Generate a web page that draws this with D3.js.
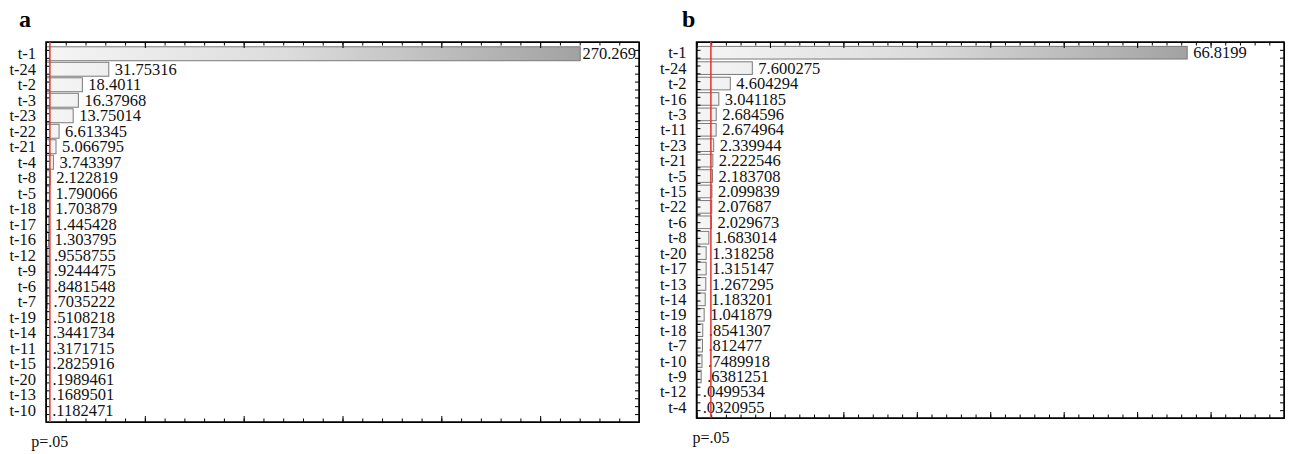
<!DOCTYPE html>
<html>
<head>
<meta charset="utf-8">
<script src="https://cdn.jsdelivr.net/npm/d3@7"></script>
<style>
  body { margin: 0; background: #fff; }
  .axis path, .axis line { stroke: #000; }
</style>
</head>
<body>
<svg id="vis"></svg>
<script>
// panel a: standardized effects, sorted
const labelsA = ["t-1", "t-24", "t-2", "t-3", "t-23", "t-22", "t-21", "t-4", "t-8", "t-5",
  "t-18", "t-17", "t-16", "t-12", "t-9", "t-6", "t-7", "t-19", "t-14", "t-11",
  "t-15", "t-20", "t-13", "t-10"];
const valuesA = [270.269, 31.75316, 18.4011, 16.37968, 13.75014, 6.613345, 5.066795, 3.743397,
  2.122819, 1.790066, 1.703879, 1.445428, 1.303795, 0.9558755, 0.9244475, 0.8481548,
  0.7035222, 0.5108218, 0.3441734, 0.3171715, 0.2825916, 0.1989461, 0.1689501, 0.1182471];

// panel b
const labelsB = ["t-1", "t-24", "t-2", "t-16", "t-3", "t-11", "t-23", "t-21", "t-5", "t-15",
  "t-22", "t-6", "t-8", "t-20", "t-17", "t-13", "t-14", "t-19", "t-18", "t-7",
  "t-10", "t-9", "t-12", "t-4"];
const valuesB = [66.8199, 7.600275, 4.604294, 3.041185, 2.684596, 2.674964, 2.339944, 2.222546,
  2.183708, 2.099839, 2.07687, 2.029673, 1.683014, 1.318258, 1.315147, 1.267295,
  1.183201, 1.041879, 0.8541307, 0.812477, 0.7489918, 0.6381251, 0.0499534, 0.0320955];

const critical = 1.96;   // p=.05 line
const serif = "'Liberation Serif', 'Times New Roman', 'DejaVu Serif', serif";

const svg = d3.select("svg#vis")
  .attr("width", 1296)
  .attr("height", 454);

const defs = svg.append("defs");

drawPanel({
  id: "a", letter: "a", labels: labelsA, values: valuesA,
  left: 46, right: 639, top: 42, bottom: 422,
  rowTop: 46, rowBottom: 418, padding: 0.1,
  xMax: 300, minorStep: 10, majorStep: 50,
  letterX: 19, letterY: 27
});

drawPanel({
  id: "b", letter: "b", labels: labelsB, values: valuesB,
  left: 696.5, right: 1284, top: 42, bottom: 418,
  rowTop: 45, rowBottom: 415, padding: 0.18,
  xMax: 80, minorStep: 2, majorStep: 10,
  letterX: 682, letterY: 27
});

function drawPanel(cfg) {
  let g = svg.append("g").attr("id", "panel-" + cfg.id);

  let x = d3.scaleLinear()
    .domain([0, cfg.xMax])
    .range([cfg.left, cfg.right]);

  let y = d3.scaleBand()
    .domain(cfg.labels)
    .range([cfg.rowTop, cfg.rowBottom])
    .paddingInner(cfg.padding)
    .paddingOuter(cfg.padding / 2);

  let maxVal = d3.max(cfg.values);

  let grad = defs.append("linearGradient")
    .attr("id", "grad-" + cfg.id)
    .attr("gradientUnits", "userSpaceOnUse")
    .attr("x1", x(0)).attr("y1", 0)
    .attr("x2", x(maxVal)).attr("y2", 0);
  grad.append("stop").attr("offset", "0%").attr("stop-color", "#f5f5f5");
  grad.append("stop").attr("offset", "45%").attr("stop-color", "#dcdcdc");
  grad.append("stop").attr("offset", "100%").attr("stop-color", "#a2a2a2");

  let rows = cfg.labels.map((l, i) => ({ label: l, value: cfg.values[i] }));

  // bars
  g.selectAll("rect.bar")
    .data(rows)
    .enter()
    .append("rect")
    .attr("class", "bar")
    .attr("x", x(0))
    .attr("y", d => y(d.label))
    .attr("width", d => x(d.value) - x(0))
    .attr("height", y.bandwidth())
    .attr("fill", "url(#grad-" + cfg.id + ")")
    .attr("stroke", "#7a7a7a")
    .attr("stroke-width", 1);

  // value labels
  let vals = g.selectAll("text.value")
    .data(rows)
    .enter()
    .append("text")
    .attr("class", "value")
    .attr("y", d => y(d.label) + y.bandwidth() / 2)
    .attr("dy", "0.34em")
    .attr("font-family", serif)
    .attr("font-size", "16.5px")
    .attr("fill", "#111")
    .text(d => String(d.value).replace(/^0\./, "."));

  vals.attr("x", function(d) {
    let w = this.getComputedTextLength();
    return Math.min(x(d.value) + 6, cfg.right - w - 3);
  });

  // row labels
  g.selectAll("text.label")
    .data(rows)
    .enter()
    .append("text")
    .attr("class", "label")
    .attr("x", cfg.left - 10)
    .attr("y", d => y(d.label) + y.bandwidth() / 2)
    .attr("dy", "0.34em")
    .attr("text-anchor", "end")
    .attr("font-family", serif)
    .attr("font-size", "16.5px")
    .attr("fill", "#111")
    .text(d => d.label);

  // top / bottom axes, ticks pointing inward
  let minorTicks = d3.range(0, cfg.xMax + 0.001, cfg.minorStep);
  let majorTicks = d3.range(0, cfg.xMax + 0.001, cfg.majorStep);

  [[d3.axisTop, cfg.top], [d3.axisBottom, cfg.bottom]].forEach(([fn, pos]) => {
    g.append("g").attr("class", "axis")
      .attr("transform", translate(0, pos))
      .call(fn(x).tickValues(minorTicks).tickSize(-3.5).tickSizeOuter(0).tickFormat(""));
    g.append("g").attr("class", "axis")
      .attr("transform", translate(0, pos))
      .call(fn(x).tickValues(majorTicks).tickSize(-6).tickSizeOuter(0).tickFormat(""));
  });

  // left / right axes: ticks at row centres and row boundaries
  let n = cfg.labels.length;
  let rowPos = d3.scaleLinear().domain([0, n]).range([cfg.top, cfg.bottom]);
  let rowTicks = d3.range(0, n + 0.001, 0.5);

  g.append("g").attr("class", "axis")
    .attr("transform", translate(cfg.left, 0))
    .call(d3.axisRight(rowPos).tickValues(rowTicks).tickSize(4).tickSizeOuter(0).tickFormat(""));
  g.append("g").attr("class", "axis")
    .attr("transform", translate(cfg.right, 0))
    .call(d3.axisLeft(rowPos).tickValues(rowTicks).tickSize(4).tickSizeOuter(0).tickFormat(""));

  g.selectAll(".axis path").attr("stroke", "none");

  // frame
  g.append("rect")
    .attr("x", cfg.left)
    .attr("y", cfg.top)
    .attr("width", cfg.right - cfg.left)
    .attr("height", cfg.bottom - cfg.top)
    .attr("fill", "none")
    .attr("stroke", "#000")
    .attr("stroke-width", 1.5);

  // critical value line
  g.append("line")
    .attr("x1", x(critical)).attr("x2", x(critical))
    .attr("y1", cfg.top).attr("y2", cfg.bottom)
    .attr("stroke", "#e8312a")
    .attr("stroke-width", 1.5);

  g.append("text")
    .attr("x", x(critical))
    .attr("y", cfg.bottom + 25)
    .attr("text-anchor", "middle")
    .attr("font-family", serif)
    .attr("font-size", "16px")
    .attr("fill", "#111")
    .text("p=.05");

  g.append("text")
    .attr("x", cfg.letterX)
    .attr("y", cfg.letterY)
    .attr("font-family", serif)
    .attr("font-size", "24px")
    .attr("font-weight", "bold")
    .text(cfg.letter);
}

function translate(x, y) {
  return 'translate(' + x + ',' + y + ')';
}
</script>
</body>
</html>
